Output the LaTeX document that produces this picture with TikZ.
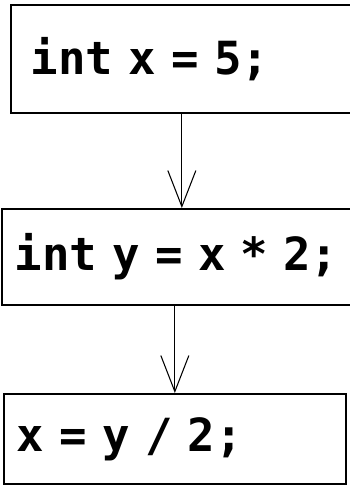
\documentclass[tikz,border=0pt]{standalone}
\usepackage{fontspec}
\newfontfamily\codefont{DejaVu Sans Mono}
\usetikzlibrary{arrows.meta,positioning}
\begin{document}
\begin{tikzpicture}[x=0.02cm,y=-0.02cm,
	stmt/.style={draw,line width=1pt,anchor=north west,align=left,
		font=\codefont\bfseries\fontsize{26}{30}\selectfont},
	flow/.style={line width=0.6pt,-{Straight Barb[length=0.72cm,width=0.56cm]}}]
	\useasboundingbox (0,0) rectangle (349,487);
	\node[stmt,inner xsep=0.4cm,text width=6.04cm,minimum height=2.16cm] (first) at (10,4) {int x = 5;};
	\node[stmt,inner xsep=0.26cm,text width=6.5cm,minimum height=1.92cm] (second) at (1,208) {int y = x * 2;};
	\node[stmt,inner xsep=0.26cm,text width=6.32cm,minimum height=1.8cm] (third) at (3,393) {x = y / 2;};
	\draw[flow] (first.south) -- (first.south |- second.north);
	\draw[flow] (third.north |- second.south) -- (third.north);
\end{tikzpicture}
\end{document}
